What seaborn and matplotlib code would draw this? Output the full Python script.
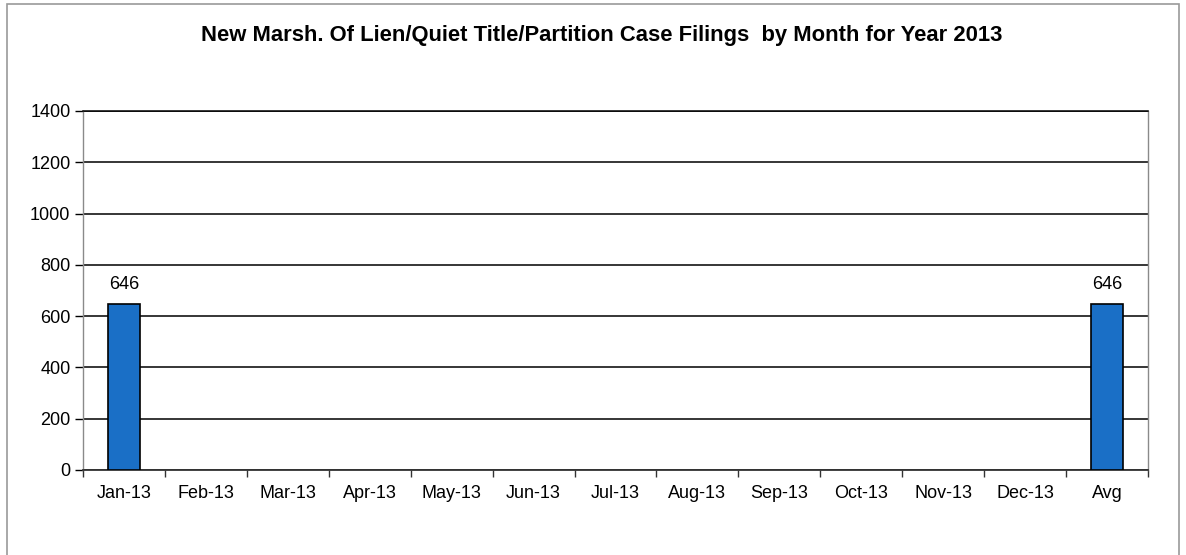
import numpy as np
import pandas as pd
import matplotlib
matplotlib.use("Agg")
import matplotlib.pyplot as plt
import seaborn as sns
from matplotlib.patches import Rectangle

months = ["Jan-13", "Feb-13", "Mar-13", "Apr-13", "May-13", "Jun-13",
          "Jul-13", "Aug-13", "Sep-13", "Oct-13", "Nov-13", "Dec-13", "Avg"]
filings = [646, np.nan, np.nan, np.nan, np.nan, np.nan,
           np.nan, np.nan, np.nan, np.nan, np.nan, np.nan, 646]
y_ticks = [0, 200, 400, 600, 800, 1000, 1200, 1400]
title = "New Marsh. Of Lien/Quiet Title/Partition Case Filings  by Month for Year 2013"

sns.set_style("white")
plt.rcParams["font.family"] = ["Liberation Sans", "DejaVu Sans"]
plt.rcParams["text.color"] = "black"
plt.rcParams["xtick.color"] = "black"
plt.rcParams["ytick.color"] = "black"

df = pd.DataFrame({"month": months, "filings": filings})

fig = plt.figure(figsize=(11.86, 5.55), dpi=100)
ax = fig.add_axes([83 / 1186, 1 - 470 / 555, (1148 - 83) / 1186, (470 - 111) / 555])

sns.barplot(data=df.dropna(), x="month", y="filings", order=months,
            color="#1A6FC6", saturation=1, width=0.4,
            edgecolor="black", linewidth=1.2, ax=ax, zorder=3)

ax.set_ylim(0, 1400)
ax.set_xlim(-0.5, len(months) - 0.5)
ax.set_yticks(y_ticks)
ax.yaxis.grid(True, color="black", linewidth=1.1, zorder=0)
ax.set_axisbelow(True)
ax.set_xlabel("")
ax.set_ylabel("")

for side in ["left", "right"]:
    ax.spines[side].set_color("#8a8a8a")
    ax.spines[side].set_linewidth(1.0)
ax.spines["top"].set_color("black")
ax.spines["top"].set_linewidth(1.1)
ax.spines["bottom"].set_color("#333333")
ax.spines["bottom"].set_linewidth(1.3)

ax.tick_params(axis="y", direction="out", length=6, width=1, color="black",
               labelsize=13, pad=3, left=True)
ax.tick_params(axis="x", which="major", length=0, labelsize=13, pad=11)
ax.set_xticks(np.arange(-0.5, len(months) - 0.5 + 1), minor=True)
ax.tick_params(axis="x", which="minor", direction="out", length=5, width=1,
               color="#333333", bottom=True)

for x, v in enumerate(filings):
    if not np.isnan(v):
        ax.annotate(f"{int(v)}", (x, v), xytext=(0, 8), textcoords="offset points",
                    ha="center", va="bottom", fontsize=13)

fig.text(0.5 * (200 + 1003) / 1186, 1 - 35 / 555, title, ha="center", va="center",
         fontsize=15.8, fontweight="bold")

fig.patches.append(Rectangle((7 / 1186, -0.05), (1179 - 7) / 1186, 1.05 - 4 / 555,
                             transform=fig.transFigure, fill=False,
                             edgecolor="#9a9a9a", linewidth=1.2))

fig.savefig("out.png", dpi=100, facecolor="white")
